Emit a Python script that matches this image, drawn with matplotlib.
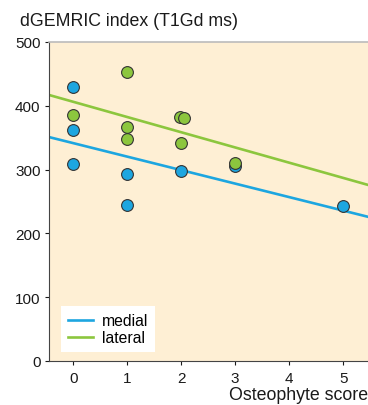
import numpy as np
import matplotlib.pyplot as plt

plt.rcParams['font.family'] = ['Liberation Sans', 'DejaVu Sans']

# medial points (blue)
medial_x = [0, 0, 0, 1, 1, 2, 3, 5]
medial_y = [429, 362, 309, 293, 245, 298, 306, 243]
# lateral points (green)
lateral_x = [0, 1, 1, 1, 1.97, 2.05, 2, 3]
lateral_y = [386, 453, 367, 348, 382, 381, 342, 310]

# fitted lines, end values at the axis edges
fit_x = [-0.45, 5.46]
medial_fit = [351, 226]
lateral_fit = [417, 276]

blue = '#1DA6E0'
green = '#8CC63E'
bg = '#FEEFD4'
txt = '#1a1a1a'

fig = plt.figure(figsize=(3.68, 4.06), dpi=100)
ax = fig.add_axes([0.133, 0.1084, 0.867, 0.7857])
ax.set_facecolor(bg)

ax.plot(fit_x, medial_fit, color=blue, lw=1.9, label='medial', zorder=2)
ax.plot(fit_x, lateral_fit, color=green, lw=1.9, label='lateral', zorder=2)
ax.scatter(medial_x, medial_y, s=72, color=blue, edgecolor='#333333', linewidth=0.8, zorder=3)
ax.scatter(lateral_x, lateral_y, s=72, color=green, edgecolor='#333333', linewidth=0.8, zorder=4)

ax.set_xlim(-0.45, 5.46)
ax.set_ylim(0, 500)
ax.set_xticks([0, 1, 2, 3, 4, 5])
ax.set_yticks([0, 100, 200, 300, 400, 500])
ax.tick_params(labelsize=11, length=3, width=0.8, colors=txt, pad=3)
ax.tick_params(axis='x', pad=4)

ax.spines['right'].set_visible(False)
ax.spines['top'].set_color('#BBBBBB')
ax.spines['top'].set_linewidth(1.2)
ax.spines['left'].set_color('#444444')
ax.spines['bottom'].set_color('#444444')

ax.set_xlabel('Osteophyte score', fontsize=12.8, color=txt, loc='right', labelpad=1)
fig.text(0.054, 0.948, 'dGEMRIC index (T1Gd ms)', fontsize=12.8, color=txt, va='center')

leg = ax.legend(loc='lower left', bbox_to_anchor=(0.037, 0.028), borderaxespad=0,
                frameon=True, fancybox=False, fontsize=11.3, handlelength=1.6,
                handletextpad=0.55, labelspacing=0.1, borderpad=0.45)
leg.get_frame().set_facecolor('white')
leg.get_frame().set_edgecolor('none')
leg.get_frame().set_alpha(1)

fig.savefig('out.png', dpi=100)
